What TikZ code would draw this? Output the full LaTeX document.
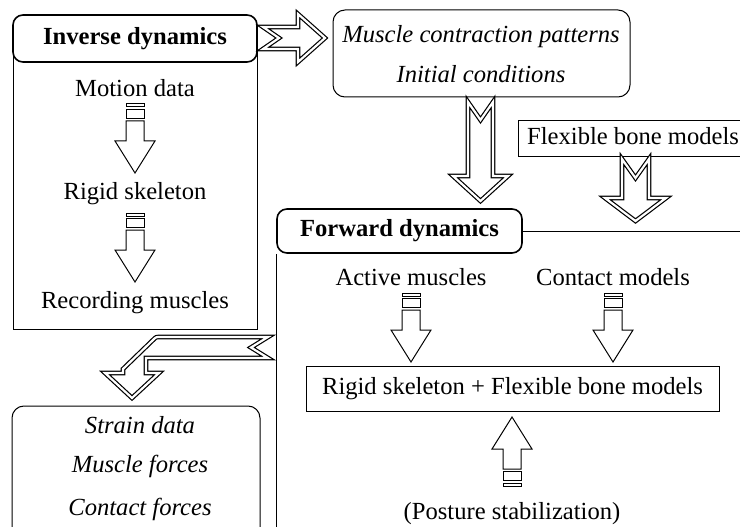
\documentclass[tikz,border=0pt]{standalone}
\usepackage{fontspec}
\setmainfont{Liberation Serif}
\begin{document}
\begin{tikzpicture}[x=1pt,y=-1pt,
  txt/.style={font=\fontsize{24.6pt}{29pt}\selectfont, inner sep=0pt},
  thinl/.style={draw=black, line width=1pt},
  hdrbox/.style={draw=black, line width=1.6pt, rounded corners=10pt, fill=white, inner sep=0pt, font=\fontsize{24.6pt}{29pt}\selectfont\bfseries},
  rbox/.style={draw=black, line width=1pt, rounded corners=12pt, inner sep=0pt},
  dbl/.style={draw=black, line width=1.2pt, double=white, double distance=2.2pt, line join=miter, miter limit=10},
  pics/barrow/.style={code={
    \draw[thinl] (-9,0) rectangle (9,3);
    \draw[thinl] (-9,5.5) rectangle (9,14.5);
    \draw[thinl] (-9,17) -- (-9,37) -- (-20,37) -- (0,69) -- (20,37) -- (9,37) -- (9,17) -- cycle;
  }}
]
\useasboundingbox (0,0) rectangle (740,527);

% Inverse dynamics block
\node[thinl, minimum width=244pt, minimum height=289pt, inner sep=0pt] (invframe) at (135,184.5) {};
\node[hdrbox, minimum width=244pt, minimum height=47pt] (invhdr) at (135,38.5) {Inverse dynamics};
\node[txt, anchor=base] (motion) at (135,97) {Motion data};
\node[txt, anchor=base] (rigid1) at (135,200) {Rigid skeleton};
\node[txt, anchor=base] (record) at (135,308) {Recording muscles};
\pic at (135,104) {barrow};
\pic at (135,213) {barrow};

% Muscle contraction box
\node[rbox, minimum width=297pt, minimum height=87pt] (mcp) at (481.5,53.5) {};
\node[txt, anchor=base] (mcpt1) at (481,43) {\itshape Muscle contraction patterns};
\node[txt, anchor=base] (mcpt2) at (481,83) {\itshape Initial conditions};

% Flexible bone models
\draw[thinl] (740,121) -| (518,156) -- (740,156);
\node[txt, anchor=base west] (flex) at (527,145) {Flexible bone models};

% Forward dynamics
\node[hdrbox, minimum width=245pt, minimum height=44pt] (fwd) at (399.5,231) {Forward dynamics};
\draw[thinl] (fwd.east) -- (740,231);
\draw[thinl] (fwd.south west) -- ++(0,274);

\node[txt, anchor=base] (active) at (411,285) {Active muscles};
\node[txt, anchor=base] (contact) at (613,285) {Contact models};
\pic at (411,293) {barrow};
\pic at (613,293) {barrow};
\node[thinl, txt, minimum width=413pt, minimum height=45pt] (rigidbox) at (512.5,388.5) {Rigid skeleton + Flexible bone models};
\pic[yscale=-1] at (512,486) {barrow};
\node[txt, anchor=base] (posture) at (512,519) {(Posture stabilization)};

% Output box
\draw[thinl, rounded corners=12pt] (12,527) -- (12,406) -- (260,406) -- (260,527);
\node[txt, anchor=base] (strain) at (140,433) {\itshape Strain data};
\node[txt, anchor=base] (mforce) at (140,472) {\itshape Muscle forces};
\node[txt, anchor=base] (cforce) at (140,515) {\itshape Contact forces};

% Double-outlined block arrows
\draw[dbl] (263,27) -- (298,27) -- (298,14) -- (325,38) -- (298,62) -- (298,49) -- (263,49) -- (279,38) -- cycle;
\draw[dbl] (468,102) -- (480.5,120) -- (493,102) -- (493,176) -- (508,176) -- (480.5,201) -- (453,176) -- (468,176) -- cycle;
\draw[dbl] (622,159) -- (635.5,178) -- (649,159) -- (649,198) -- (666,198) -- (635.5,221) -- (605,198) -- (622,198) -- cycle;
\draw[dbl] (268,337) -- (160,337) .. controls (156,337) .. (153,340) -- (123,369) -- (123,373) -- (105,373) -- (132,398) -- (159,373) -- (146,373) -- (146,358) -- (268,358) -- (251,347.5) -- cycle;
\end{tikzpicture}
\end{document}
